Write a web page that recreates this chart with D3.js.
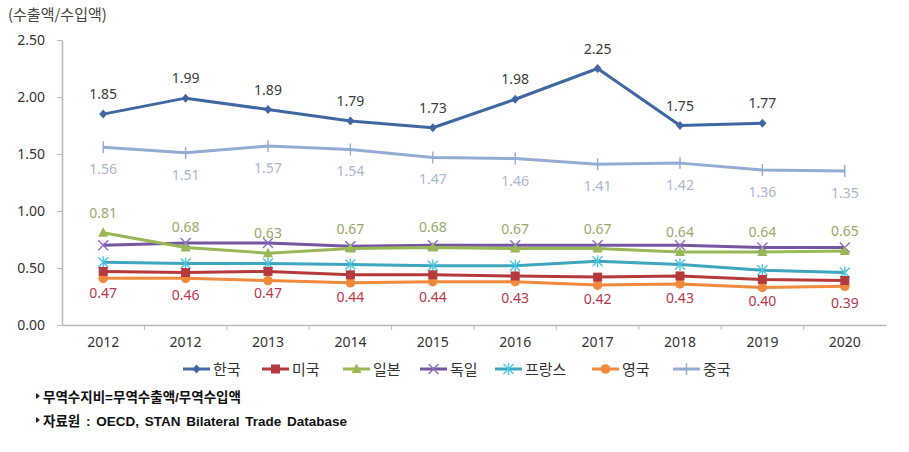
<!DOCTYPE html>
<html><head><meta charset="utf-8">
<script src="https://cdn.jsdelivr.net/npm/d3@7"></script>
<style>
body{margin:0;background:#fff;}
svg{display:block;}
</style></head>
<body>
<svg id="chart" width="909" height="452"></svg>
<script>
const years = ["2012","2012","2013","2014","2015","2016","2017","2018","2019","2020"];
const yTicks = [0, 0.5, 1.0, 1.5, 2.0, 2.5];
const seriesNames = ["한국","미국","일본","독일","프랑스","영국","중국"];
const korea   = [1.85, 1.99, 1.89, 1.79, 1.73, 1.98, 2.25, 1.75, 1.77, null];
const usa     = [0.47, 0.46, 0.47, 0.44, 0.44, 0.43, 0.42, 0.43, 0.40, 0.39];
const japan   = [0.81, 0.68, 0.63, 0.67, 0.68, 0.67, 0.67, 0.64, 0.64, 0.65];
const germany = [0.70, 0.72, 0.72, 0.69, 0.70, 0.70, 0.70, 0.70, 0.68, 0.68];
const france  = [0.55, 0.54, 0.54, 0.53, 0.52, 0.52, 0.56, 0.53, 0.48, 0.46];
const uk      = [0.41, 0.41, 0.39, 0.37, 0.38, 0.38, 0.35, 0.36, 0.33, 0.34];
const china   = [1.56, 1.51, 1.57, 1.54, 1.47, 1.46, 1.41, 1.42, 1.36, 1.35];
const colors  = ["#3f68a3","#b53a3c","#97b855","#7656a0","#3fa6c0","#f08a3c","#93acd3"];
const markers = ["diamond","square","triangle","cross","asterisk","circle","plus"];
const labelInfo = [
  {show:true, pos:"above", color:"#3b3b3b"},
  {show:true, pos:"below", color:"#b7384a"},
  {show:true, pos:"above", color:"#9aa96a"},
  {show:false},
  {show:false},
  {show:false},
  {show:true, pos:"below", color:"#a8b7d3"}
];
const allData = [korea, usa, japan, germany, france, uk, china];

const svg = d3.select("#chart");
const margin = {left:62, right:23, top:40, bottom:127};
const W = 909, H = 452;
const x = d3.scaleBand().domain(d3.range(years.length)).range([margin.left, W - margin.right]);
const y = d3.scaleLinear().domain([0, 2.5]).range([H - margin.bottom, margin.top]);
const font = "'Noto Sans', 'Open Sans', sans-serif";
const kfont = "'Noto Sans CJK KR', sans-serif";

// Y axis
const yAxis = svg.append("g").attr("transform", `translate(${margin.left},0)`)
  .call(d3.axisLeft(y).tickValues(yTicks).tickFormat(d3.format(".2f")).tickSize(5).tickSizeOuter(0));
yAxis.select(".domain").attr("stroke", "#b8b8b8").attr("stroke-width", 1.5);
yAxis.selectAll(".tick line").attr("stroke", "#b8b8b8");
yAxis.selectAll(".tick text").attr("font-family", font).attr("font-size", 14).attr("fill", "#333").attr("x", -17);

// X axis
const xAxis = svg.append("g").attr("transform", `translate(0,${y(0)})`)
  .call(d3.axisBottom(x).tickFormat(i => years[i]).tickSize(0).tickSizeOuter(0));
xAxis.select(".domain").attr("stroke", "#b8b8b8").attr("stroke-width", 1.5);
xAxis.selectAll(".tick text").attr("font-family", font).attr("font-size", 14).attr("fill", "#333").attr("dy", "1.35em");
// tick marks between categories
svg.append("g").selectAll("line").data(d3.range(1, years.length)).join("line")
  .attr("x1", i => x(i)).attr("x2", i => x(i))
  .attr("y1", y(0)).attr("y2", y(0) + 5)
  .attr("stroke", "#b8b8b8").attr("stroke-width", 1);

// Y unit label
svg.append("text").attr("x", 8).attr("y", 20).text("(수출액/수입액)")
  .attr("font-family", kfont).attr("font-size", 15).attr("fill", "#444");

const cx = i => x(i) + x.bandwidth() / 2;

function drawMarker(g, type, px, py, color) {
  switch (type) {
    case "diamond":
      g.append("path").attr("d", `M${px},${py-4.5}L${px+4},${py}L${px},${py+4.5}L${px-4},${py}Z`).attr("fill", color); break;
    case "square":
      g.append("rect").attr("x", px-4.5).attr("y", py-4.5).attr("width", 9).attr("height", 9).attr("fill", color); break;
    case "triangle":
      g.append("path").attr("d", `M${px},${py-5.5}L${px+5},${py+4}L${px-5},${py+4}Z`).attr("fill", color); break;
    case "cross":
      g.append("path").attr("d", `M${px-5},${py-5}L${px+5},${py+5}M${px-5},${py+5}L${px+5},${py-5}`).attr("stroke", d3.color(color).brighter(0.6)).attr("stroke-width", 1.4); break;
    case "asterisk":
      g.append("path").attr("d", `M${px-5},${py-5}L${px+5},${py+5}M${px-5},${py+5}L${px+5},${py-5}M${px},${py-6}L${px},${py+6}`).attr("stroke", d3.color(color).brighter(0.5)).attr("stroke-width", 1.4); break;
    case "circle":
      g.append("circle").attr("cx", px).attr("cy", py).attr("r", 4.8).attr("fill", color); break;
    case "plus":
      g.append("path").attr("d", `M${px},${py-6}L${px},${py+6}`).attr("stroke", color).attr("stroke-width", 1.4); break;
  }
}

// draw series: back-to-front order like reference
const drawOrder = [6, 5, 4, 1, 3, 2, 0];
drawOrder.forEach(s => {
  const vals = allData[s];
  const g = svg.append("g");
  const line = d3.line().defined(d => d != null).x((d, i) => cx(i)).y(d => y(d));
  g.append("path").datum(vals).attr("d", line).attr("fill", "none")
    .attr("stroke", colors[s]).attr("stroke-width", 3).attr("stroke-linejoin", "round");
  vals.forEach((v, i) => { if (v != null) drawMarker(g, markers[s], cx(i), y(v), colors[s]); });
});

// data labels
labelInfo.forEach((info, s) => {
  if (!info.show) return;
  const vals = allData[s];
  svg.append("g").selectAll("text").data(vals.map((v, i) => ({v, i})).filter(d => d.v != null)).join("text")
    .attr("x", d => cx(d.i))
    .attr("y", d => info.pos === "above" ? y(d.v) - 15 : y(d.v) + 27)
    .attr("text-anchor", "middle")
    .attr("font-family", font).attr("font-size", 14).attr("fill", info.color)
    .text(d => d3.format(".2f")(d.v));
});

// legend
const legendX = [183, 262, 343, 420, 495, 592, 673];
const legendY = 369;
seriesNames.forEach((name, s) => {
  const g = svg.append("g");
  const lx = legendX[s];
  g.append("line").attr("x1", lx).attr("x2", lx + 27).attr("y1", legendY).attr("y2", legendY)
    .attr("stroke", colors[s]).attr("stroke-width", 3);
  drawMarker(g, markers[s], lx + 13.5, legendY, colors[s]);
  g.append("text").attr("x", lx + 30).attr("y", legendY + 5.5).text(name)
    .attr("font-family", kfont).attr("font-size", 15).attr("fill", "#333");
});

// footnotes
const notes = ["무역수지비=무역수출액/무역수입액", "자료원 : OECD, STAN Bilateral Trade Database"];
notes.forEach((t, i) => {
  const ty = 402 + i * 24;
  svg.append("path").attr("d", `M36,${ty-9}L40,${ty-6}L36,${ty-3}Z`).attr("fill", "#222");
  svg.append("text").attr("x", 43).attr("y", ty).text(t)
    .attr("font-family", "'Liberation Sans', 'Noto Sans CJK KR', sans-serif").attr("font-size", 13.5)
    .attr("font-weight", 600).attr("word-spacing", 2).attr("fill", "#111");
});
</script>
</body></html>
